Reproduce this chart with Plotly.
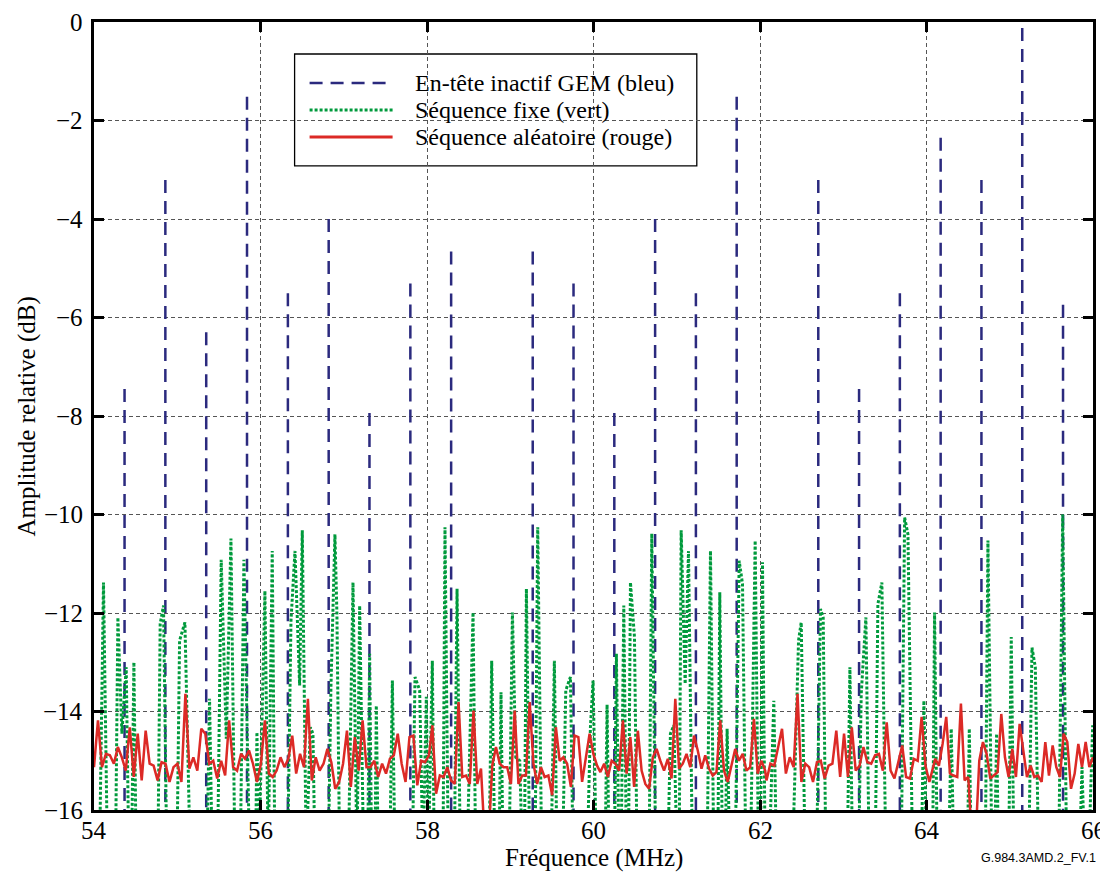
import numpy as np
import plotly.graph_objects as go

# ---------------- data ----------------
blue_freq = [54.367, 54.857, 55.348, 55.838, 56.329, 56.819, 57.309, 57.80, 58.29,
             59.27, 59.76, 60.25, 60.74, 61.23, 61.72, 62.70, 63.19, 63.68, 64.17,
             64.66, 65.15, 65.64]
blue_db = [-7.45, -3.21, -6.3, -1.52, -5.51, -4.0, -7.94, -5.31, -4.66,
           -4.66, -5.31, -7.94, -4.0, -5.51, -1.52, -3.21, -7.45, -5.51, -2.35,
           -3.21, -0.12, -5.74]

green_freq_a = [54.0, 54.066, 54.114, 54.162, 54.258, 54.287, 54.335, 54.387, 54.419, 54.451,
                54.479, 54.507, 54.767, 54.795, 54.835, 54.875, 54.996, 55.028, 55.092, 55.156,
                55.356, 55.388, 55.420, 55.484, 55.528, 55.589, 55.645, 55.693, 55.757, 55.801,
                55.869, 55.941, 55.957, 55.981]
green_db_a = [-17, -17, -11.38, -17, -17, -12.09, -14.45, -13.10, -17, -17,
              -13.0, -17, -17, -12.22, -11.85, -17, -17, -12.56, -12.19, -17,
              -17, -13.74, -17, -17, -10.92, -14.55, -10.49, -17, -17, -10.92,
              -17, -17, -14.42, -17]
green_freq_b = [56.053, 56.093, 56.141, 56.173, 56.326, 56.366, 56.414, 56.470, 56.502, 56.550,
                56.598, 56.630, 56.654, 56.814, 56.846, 56.894, 56.918, 56.951, 57.055, 57.111,
                57.159, 57.191, 57.239, 57.287, 57.311, 57.335, 57.375, 57.391, 57.415, 57.552,
                57.584, 57.616, 57.824, 57.856, 57.912, 57.952, 57.992]
green_db_b = [-11.55, -17, -10.74, -17, -17, -12.16, -10.74, -13.47, -10.32, -17,
              -14.32, -14.45, -17, -17, -13.51, -10.40, -12.02, -17, -17, -11.38,
              -17, -11.85, -17, -17, -12.83, -17, -17, -13.88, -17, -17,
              -13.37, -17, -17, -13.30, -13.57, -17, -13.7]
green_freq_c = [58.016, 58.064, 58.088, 58.192, 58.216, 58.256, 58.328, 58.361, 58.401, 58.481,
                58.553, 58.585, 58.745, 58.777, 58.817, 58.865, 58.889, 58.913, 58.986, 59.026,
                59.066, 59.114, 59.146, 59.170, 59.194, 59.234, 59.298, 59.330, 59.378, 59.490,
                59.530, 59.562, 59.627, 59.667, 59.723, 59.755, 59.923, 59.963, 59.995]
green_db_c = [-17, -12.97, -17, -17, -10.26, -17, -17, -11.51, -17, -17,
              -11.99, -17, -17, -12.97, -17, -17, -13.61, -17, -17, -11.99,
              -14.93, -15.0, -17, -17, -11.51, -17, -17, -10.26, -17, -17,
              -12.97, -17, -17, -13.57, -13.30, -17, -17, -14.32, -13.37]
green_freq_d = [60.035, 60.139, 60.163, 60.187, 60.251, 60.275, 60.307, 60.331, 60.364, 60.396,
                60.420, 60.444, 60.492, 60.524, 60.668, 60.700, 60.748, 60.892, 60.924, 60.965,
                61.005, 61.029, 61.053, 61.101, 61.141, 61.189, 61.365, 61.405, 61.445, 61.493,
                61.517, 61.549, 61.581, 61.605, 61.638, 61.702, 61.750, 61.790, 61.830, 61.886,
                61.942, 61.982]
green_db_d = [-17, -17, -13.86, -17, -17, -12.83, -17, -17, -11.85, -17,
              -17, -11.38, -12.49, -17, -17, -10.39, -17, -17, -14.45, -14.28,
              -17, -17, -10.32, -13.44, -10.74, -17, -17, -10.74, -17, -17,
              -11.58, -17, -17, -14.35, -17, -17, -10.94, -11.41, -17, -17,
              -10.53, -17]
green_freq_e = [62.006, 62.030, 62.062, 62.110, 62.166, 62.198, 62.391, 62.463, 62.495, 62.543,
                62.679, 62.727, 62.759, 62.791, 63.048, 63.080, 63.112, 63.184, 63.216, 63.272,
                63.312, 63.384, 63.416, 63.464, 63.512, 63.697, 63.737, 63.777, 63.833, 63.937,
                63.969, 64.001]
green_db_e = [-17, -10.97, -17, -17, -13.78, -17, -17, -12.56, -12.19, -17,
              -17, -11.92, -12.09, -17, -17, -13.10, -17, -17, -13.64, -12.09,
              -17, -17, -11.82, -11.38, -17, -17, -10.06, -10.40, -17, -17,
              -13.78, -17]
green_freq_f = [64.073, 64.097, 64.129, 64.265, 64.297, 64.329, 64.490, 64.514, 64.538, 64.706,
                64.738, 64.786, 64.818, 64.842, 64.866, 64.986, 65.018, 65.050, 65.227, 65.267,
                65.307, 65.347, 65.588, 65.636, 65.684, 65.836, 65.868, 65.900, 65.948, 65.996]
green_db_f = [-17, -11.99, -17, -17, -14.35, -17, -17, -14.35, -17, -17,
              -10.53, -17, -17, -14.45, -17, -17, -12.49, -17, -17, -12.70,
              -13.10, -17, -17, -10.0, -17, -17, -15.13, -17, -17, -14.28]

red_seg_start = [54.0, 56.053, 58.064, 60.083, 62.078, 64.105]
red_seg_end = [56.005, 58.024, 60.043, 62.062, 64.081, 66.0]
red_db_a = [-15.13, -14.18, -15.13, -14.86, -14.89, -15.06, -14.72, -14.93, -15.2, -14.32,
            -15.33, -14.45, -15.4, -14.39, -15.06, -15.1, -15.4, -15.03, -15.06, -15.43,
            -15.13, -15.06, -15.43, -13.64, -15.16, -14.93, -15.2, -14.35, -14.45, -15.06,
            -15.0, -15.36, -15.0, -15.3, -14.18, -15.13, -15.2, -14.86, -14.96, -14.79,
            -15.06, -15.43, -15.06]
red_db_b = [-14.18, -15.26, -15.33, -15.2, -14.93, -15.13, -14.96, -14.49, -15.26, -14.86,
            -15.13, -13.74, -15.4, -14.93, -15.2, -15.06, -14.76, -15.03, -15.57, -15.43,
            -15.06, -14.39, -15.53, -14.52, -15.2, -14.18, -15.13, -15.13, -15.0, -15.33,
            -15.06, -15.26, -14.96, -14.89, -14.45, -15.06, -15.43, -14.52, -14.49, -15.5,
            -15.0, -15.03, -14.89]
red_db_c = [-14.28, -15.67, -15.3, -15.33, -15.13, -15.4, -15.47, -13.81, -15.33, -15.3,
            -15.47, -13.98, -15.47, -15.16, -16.6, -16.6, -15.1, -14.72, -15.06, -15.13,
            -15.13, -15.47, -13.98, -15.47, -15.3, -15.3, -13.81, -15.06, -15.47, -15.13,
            -15.33, -15.3, -15.7, -14.32, -15.0, -14.93, -15.06, -15.53, -14.49, -14.52,
            -15.43, -14.93, -14.45, -14.86, -15.1]
red_db_d = [-15.23, -15.06, -15.33, -15.0, -15.06, -15.2, -14.18, -15.26, -14.52, -15.53,
            -14.39, -15.2, -15.47, -15.57, -14.93, -14.76, -15.0, -15.2, -14.96, -15.36,
            -13.74, -15.16, -15.06, -14.86, -15.13, -14.49, -14.79, -15.16, -14.89, -15.16,
            -15.3, -15.23, -14.18, -15.2, -15.43, -15.06, -14.76, -15.0, -14.86, -15.2,
            -15.13, -14.15, -15.26, -15.0, -15.2]
red_db_e = [-15.4, -15.06, -15.1, -14.72, -14.35, -15.26, -14.93, -15.13, -13.64, -15.43,
            -15.06, -15.13, -15.43, -15.03, -15.0, -15.36, -15.1, -15.06, -14.39, -15.33,
            -14.45, -15.33, -14.32, -15.2, -15.1, -14.72, -15.03, -15.06, -14.89, -14.86,
            -15.2, -14.22, -15.2, -15.36, -15.0, -14.69, -15.33, -15.36, -14.96, -15.0,
            -14.11, -15.1, -15.43, -15.13]
red_db_f = [-14.96, -15.1, -14.66, -14.11, -15.26, -15.3, -15.33, -13.84, -15.4, -15.33,
            -16.6, -16.6, -15.0, -14.62, -14.86, -15.36, -15.3, -15.23, -14.05, -14.93,
            -15.33, -14.76, -15.33, -14.25, -14.79, -15.33, -15.1, -15.33, -15.3, -15.43,
            -14.62, -15.3, -14.69, -15.13, -15.33, -14.45, -14.62, -15.57, -15.26, -14.66,
            -15.13, -14.62, -15.13, -14.93]

series_names = ["En-tête inactif GEM (bleu)", "Séquence fixe (vert)", "Séquence aléatoire (rouge)"]
x_ticks = [54, 56, 58, 60, 62, 64, 66]
y_ticks = [-16, -14, -12, -10, -8, -6, -4, -2, 0]

# ---------------- build traces ----------------
bx, by = [], []
for f, a in zip(blue_freq, blue_db):
    bx += [f, f, None]
    by += [a, -16, None]

green_freq = green_freq_a + green_freq_b + green_freq_c + green_freq_d + green_freq_e + green_freq_f
green_db = green_db_a + green_db_b + green_db_c + green_db_d + green_db_e + green_db_f
assert len(green_freq) == len(green_db)

red_parts = [red_db_a, red_db_b, red_db_c, red_db_d, red_db_e, red_db_f]
red_x, red_y = [], []
for s, e, vals in zip(red_seg_start, red_seg_end, red_parts):
    red_x += list(np.linspace(s, e, len(vals)))
    red_y += vals

BLUE = "#2B2A7E"
GREEN = "#009A3C"
RED = "#DC2A26"
SERIF = "serif"
styles = [dict(color=BLUE, width=2.5, dash="13px,8px"),
          dict(color=GREEN, width=3, dash="3px,2px"),
          dict(color=RED, width=3)]

fig = go.Figure()
fig.add_trace(go.Scatter(x=bx, y=by, mode="lines", name=series_names[0], line=styles[0]))
fig.add_trace(go.Scatter(x=green_freq, y=green_db, mode="lines", name=series_names[1], line=styles[1]))
fig.add_trace(go.Scatter(x=red_x, y=red_y, mode="lines", name=series_names[2],
                         line=dict(color=RED, width=2.5)))

axis_common = dict(
    showgrid=True, gridcolor="#555555", gridwidth=1, griddash="4px,3px",
    showline=True, linecolor="black", linewidth=2.5, mirror="allticks",
    ticks="inside", ticklen=10, tickwidth=2.5, tickcolor="black",
    zeroline=False, automargin=False, showticklabels=False,
)

fig.update_xaxes(range=[54, 66], tickvals=x_ticks, **axis_common)
fig.update_yaxes(range=[-16, 0], tickvals=y_ticks, **axis_common)

def fmt(v):
    return str(v).replace("-", "\u2212")

annotations = []
# tick labels (serif, like the reference)
for v in x_ticks:
    annotations.append(dict(text=fmt(v), xref="x", yref="paper", x=v, y=-0.0254,
                            xanchor="center", yanchor="middle", showarrow=False,
                            font=dict(family=SERIF, size=25, color="black")))
for v in y_ticks:
    annotations.append(dict(text=fmt(v), xref="paper", yref="y", x=-0.009, y=v,
                            xanchor="right", yanchor="middle", showarrow=False,
                            font=dict(family=SERIF, size=25, color="black")))

# custom legend box (drawn as decoration in paper coordinates)
leg_rows_y = [0.9226, 0.8883, 0.8541]
shapes = [dict(type="rect", xref="paper", yref="paper",
               x0=0.2008, x1=0.6034, y0=0.8173, y1=0.9594,
               line=dict(color="black", width=1.3), fillcolor="white", layer="between")]
for name, st, yy in zip(series_names, styles, leg_rows_y):
    shapes.append(dict(type="line", xref="paper", yref="paper",
                       x0=0.2158, x1=0.2989, y0=yy, y1=yy, line=st, layer="between"))
    annotations.append(dict(text=name, xref="paper", yref="paper", x=0.3190, y=yy,
                            xanchor="left", yanchor="middle", showarrow=False,
                            font=dict(family=SERIF, size=24, color="black")))

annotations += [
    dict(text="Fréquence (MHz)", xref="paper", yref="paper",
         x=0.5, y=-0.0609, xanchor="center", yanchor="middle", showarrow=False,
         font=dict(family=SERIF, size=25, color="black")),
    dict(text="Amplitude relative (dB)", xref="paper", yref="paper",
         x=-0.0666, y=0.5, xanchor="center", yanchor="middle", showarrow=False,
         textangle=-90, font=dict(family=SERIF, size=25, color="black")),
    dict(text="G.984.3AMD.2_FV.1", xref="paper", yref="paper",
         x=1.005, y=-0.061, xanchor="right", yanchor="middle", showarrow=False,
         font=dict(family="Arial, sans-serif", size=12.5, color="black")),
]

# the page body adds an 8 px offset, so the figure is 8 px smaller than the window
fig.update_layout(
    width=1100, height=872,
    margin=dict(l=86, r=15, t=14, b=70),
    plot_bgcolor="white", paper_bgcolor="white",
    font=dict(family=SERIF, size=24, color="black"),
    showlegend=False,
    shapes=shapes,
    annotations=annotations,
)

fig.write_html("out.html")
